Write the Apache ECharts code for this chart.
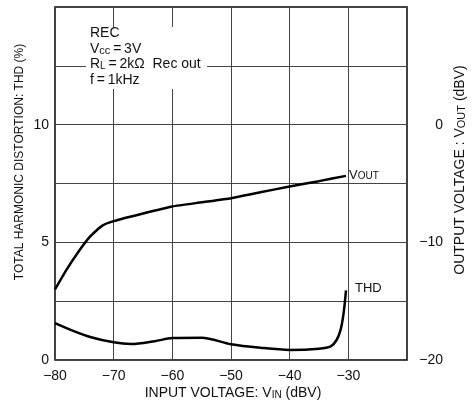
<!DOCTYPE html>
<html><head><meta charset="utf-8">
<script src="https://cdn.jsdelivr.net/npm/echarts@6/dist/echarts.min.js"></script>
<style>html,body{margin:0;padding:0;background:#fff}#c{width:475px;height:405px}</style>
</head><body><div id="c"></div>
<script>
// Input voltage (dBV) and output voltage (dBV)
var voutX = [-80, -78, -76, -74, -72, -70, -65, -60, -55, -50, -45, -40, -35, -30.4];
var voutY = [-14.0, -12.3, -10.8, -9.5, -8.6, -8.2, -7.55, -6.95, -6.6, -6.25, -5.75, -5.25, -4.8, -4.35];
// Input voltage (dBV) and THD (%)
var thdX = [-80, -77, -74, -70, -67, -63, -60, -55, -50, -45, -40, -35, -33, -32, -31.3, -30.8, -30.4];
var thdY = [1.57, 1.25, 0.98, 0.75, 0.68, 0.8, 0.93, 0.95, 0.67, 0.52, 0.43, 0.48, 0.58, 0.85, 1.3, 2.0, 2.96];
var xTicks = [-80, -70, -60, -50, -40, -30];
var leftTicks = [0, 5, 10];
var rightTicks = [-20, -10, 0];

function zip(a, b) { return a.map(function (v, i) { return [v, b[i]]; }); }
function fmt(v) { return String(v).replace('-', '\u2212'); }
var FONT = 'Liberation Sans, Arial, sans-serif';
var SUB = {fontFamily: FONT, fontSize: 10, color: '#111', verticalAlign: 'bottom', padding: [0, 0, 1, 0]};
var chart = echarts.init(document.getElementById('c'), null, {renderer: 'canvas'});
chart.setOption({
  animation: false,
  backgroundColor: '#fff',
  grid: {left: 55, right: 68, top: 7, bottom: 45, show: true, borderColor: '#000', borderWidth: 1.5,
    containLabel: false, outerBoundsMode: 'none'},
  xAxis: {
    type: 'value', min: -80, max: -20, interval: 10,
    axisLine: {show: false}, axisTick: {show: false},
    splitLine: {show: true, lineStyle: {color: '#444', width: 1}},
    axisLabel: {color: '#111', fontFamily: FONT, fontSize: 14, margin: 9,
      formatter: function (v) { return xTicks.indexOf(v) >= 0 ? fmt(v) : ''; }}
  },
  yAxis: [{
    type: 'value', min: 0, max: 15, interval: 2.5,
    axisLine: {show: false}, axisTick: {show: false},
    splitLine: {show: true, lineStyle: {color: '#444', width: 1}},
    axisLabel: {color: '#111', fontFamily: FONT, fontSize: 14, margin: 6,
      formatter: function (v) { return leftTicks.indexOf(v) >= 0 ? fmt(v) : ''; }}
  }, {
    type: 'value', min: -20, max: 10, interval: 5, position: 'right',
    axisLine: {show: false}, axisTick: {show: false}, splitLine: {show: false},
    axisLabel: {color: '#111', fontFamily: FONT, fontSize: 14, margin: 36, align: 'right',
      formatter: function (v) { return rightTicks.indexOf(v) >= 0 ? fmt(v) : ''; }}
  }],
  series: [{
    type: 'line', name: 'VOUT', yAxisIndex: 1, data: zip(voutX, voutY), smooth: 0.15, showSymbol: false,
    lineStyle: {color: '#000', width: 2.5},
    endLabel: {show: true, formatter: 'V{s|OUT}', distance: 3, color: '#111', fontFamily: FONT, fontSize: 13,
      rich: {s: SUB}}
  }, {
    type: 'line', name: 'THD', yAxisIndex: 0, data: zip(thdX, thdY), smooth: 0.3, showSymbol: false,
    lineStyle: {color: '#000', width: 2.5},
    endLabel: {show: true, formatter: 'THD', distance: 9, offset: [0, -2], color: '#111', fontFamily: FONT, fontSize: 13}
  }],
  graphic: [
    {type: 'rect', left: 86, top: 27, shape: {width: 121, height: 62}, style: {fill: '#fff'}, z: 10},
    {type: 'text', left: 90, top: 26, z: 11, style: {text: 'REC', font: '14px ' + FONT, fill: '#111'}},
    {type: 'text', left: 90, top: 42, z: 11, style: {text: 'V{s|cc}\u2009=\u20093V', font: '14px ' + FONT, fill: '#111',
      rich: {s: {font: '11px ' + FONT, fill: '#111', verticalAlign: 'bottom'}}}},
    {type: 'text', left: 90, top: 57, z: 11, style: {text: 'R{s|L}\u2009=\u20092k\u03A9  Rec out', font: '14px ' + FONT, fill: '#111',
      rich: {s: {font: '10px ' + FONT, fill: '#111', verticalAlign: 'bottom'}}}},
    {type: 'text', left: 90, top: 73, z: 11, style: {text: 'f\u2009=\u20091kHz', font: '14px ' + FONT, fill: '#111'}},
    // axis titles
    {type: 'text', x: 20, y: 162, rotation: Math.PI / 2, z: 11,
      style: {text: 'TOTAL HARMONIC DISTORTION: THD (%)', font: '12px ' + FONT, fill: '#111', align: 'center', verticalAlign: 'middle'}},
    {type: 'text', x: 460, y: 170, rotation: Math.PI / 2, z: 11,
      style: {text: 'OUTPUT VOLTAGE : V{s|OUT} (dBV)', font: '14px ' + FONT, fill: '#111', align: 'center', verticalAlign: 'middle',
        rich: {s: {font: '11px ' + FONT, fill: '#111', verticalAlign: 'bottom'}}}},
    {type: 'text', x: 233, y: 393, z: 11,
      style: {text: 'INPUT VOLTAGE: V{s|IN} (dBV)', font: '14px ' + FONT, fill: '#111', align: 'center', verticalAlign: 'middle',
        rich: {s: {font: '10px ' + FONT, fill: '#111', verticalAlign: 'bottom'}}}}
  ]
});
</script></body></html>
